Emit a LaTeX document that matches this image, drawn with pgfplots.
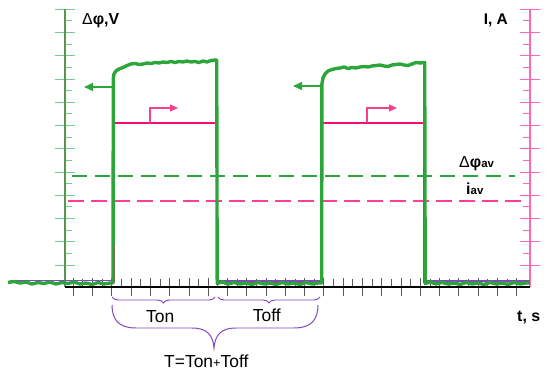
\documentclass[border=0pt]{standalone}
\usepackage{fontspec}
\setmainfont{Liberation Sans}
\usepackage{pgfplots}
\usepackage{pgfplotstable}
\pgfplotsset{compat=1.18}
\usetikzlibrary{arrows.meta,decorations.pathreplacing}

\definecolor{trace}{RGB}{44,165,58}
\definecolor{gaxis}{RGB}{90,150,80}
\definecolor{gtick}{RGB}{110,205,145}
\definecolor{ptrace}{RGB}{245,15,110}
\definecolor{paxis}{RGB}{255,105,180}
\definecolor{pdash}{RGB}{255,60,150}
\definecolor{purp}{RGB}{130,70,190}

% potential difference trace, x and y in picture pixels (y from top)
\pgfplotstableread{
x py
8 282.5
14 281.5
20 283
26 282
32 284
38 282.5
44 283.5
50 282
56 284
62 282.5
68 283.5
74 282
80 284
86 283
92 284.5
98 282.5
104 284
110 283
113 283
113.3 78
114 74
116 71
119 69
123 67.5
127 65.5
131 64
135 63.5
139 64.5
143 64
147 63
151 63.5
155 62.5
159 63
163 62
167 62.5
171 61.5
175 62.5
179 61.5
183 62
187 61
191 62
195 61.5
199 62.5
203 61
207 62
211 60.5
215 60
216.7 60
217.2 283.5
222 282
228 284
234 282.5
240 284
246 283
252 284.5
258 282.5
264 284
270 283
276 284.5
282 282.5
288 284
294 283
300 284.5
306 282.5
312 284
318 283
321.7 283
321.9 84
323 78
325 74
328 71
332 69.5
336 68.5
340 68
344 67
348 68.5
352 67.5
356 68
360 67
364 66.5
368 67
372 66
376 65.5
380 65
384 66
388 66.5
392 65
396 64.5
400 64
404 65
408 65.5
412 64
416 62.5
420 63
424.7 62.5
425.2 283.5
430 282
436 284
442 282.5
448 284
454 283
460 284.5
466 282.5
472 284
478 283
484 284.5
490 282.5
496 284
502 283
508 284.5
514 282.5
520 284
526 283
530 283
}\dphi

% current trace
\pgfplotstableread{
x py
114 283
114 123
217 123
217 283
322 283
322 123
424 123
424 283
}\cur

\pgfplotsset{frame/.style={
  scale only axis, width=465bp, height=278bp,
  xmin=65, xmax=530, ymin=88, ymax=366,
  clip=false, axis line style={-},
  xticklabels={}, yticklabels={},
}}

\begin{document}
\begin{tikzpicture}
% left axis
\begin{axis}[frame, axis x line=none, axis y line*=left, tick align=center,
  ytick={109.95,133.2,...,366}, minor y tick num=1,
  major tick length=20bp, minor tick length=7bp,
  y axis line style={gaxis, line width=1.2pt},
  major tick style={gtick, line width=1pt},
  minor tick style={gtick, line width=1pt, xshift=3.5bp}]
\end{axis}
% right axis
\begin{axis}[frame, axis x line=none, axis y line*=right, tick align=center,
  ytick={109.95,133.2,...,366}, minor y tick num=1,
  major tick length=20bp, minor tick length=7bp,
  y axis line style={paxis, line width=1.5pt},
  major tick style={paxis, line width=1pt},
  minor tick style={paxis, line width=1pt, xshift=-3.5bp}]
\end{axis}
% time axis and the traces
\begin{axis}[frame, axis y line=none, axis x line*=bottom, tick align=center,
  xtick={73.3,92.58,...,518}, minor x tick num=1,
  major tick length=18bp, minor tick length=8bp,
  x axis line style={black, line width=1.2pt},
  major tick style={black!65, line width=0.9pt},
  minor tick style={black!65, line width=0.9pt, yshift=4bp}]

\path (0,0) rectangle (550,375);

\addplot[pdash, line width=2pt, dash pattern=on 16bp off 7bp] coordinates {(68,174.3) (525,174.3)};
\addplot[trace, line width=2pt, dash pattern=on 15bp off 8bp] coordinates {(72,199) (515,199)};

\addplot[ptrace, line width=3pt] table[x=x, y expr=375-\thisrow{py}] {\cur};
\addplot[purp, line width=1.6pt] coordinates {(10,94.5) (113,94.5)};
\addplot[purp, line width=1.6pt] coordinates {(217,94) (321,94)};
\addplot[purp, line width=1.6pt] coordinates {(425,94) (530,94)};
\addplot[trace, line width=3.4pt, line join=round] table[x=x, y expr=375-\thisrow{py}] {\dphi};

% direction arrows
\draw[trace, line width=1.5pt, -{Triangle[length=9bp,width=8bp]}] (112,288) -- (84,288);
\draw[trace, line width=1.5pt, -{Triangle[length=9bp,width=8bp]}] (320,289) -- (293,289);
\draw[ptrace!80, line width=1.2pt, -{Triangle[length=8bp,width=7bp]}] (150,252) -- (150,267) -- (178,267);
\draw[ptrace!80, line width=1.2pt, -{Triangle[length=8bp,width=7bp]}] (367,252) -- (367,267) -- (397,267);

% braces
\draw[purp, line width=1pt, decorate, decoration={brace, amplitude=6bp, mirror}] (112,78) -- (215,78);
\draw[purp, line width=1pt, decorate, decoration={brace, amplitude=6bp, mirror}] (218,78) -- (320,78);
\draw[purp, line width=1pt] (112,70) .. controls (112,55) and (119,47) .. (136,47) -- (192,47)
  .. controls (207,47) and (213,40) .. (214,27)
  .. controls (215,40) and (221,47) .. (236,47) -- (294,47)
  .. controls (311,47) and (318,55) .. (318,70);

% labels
\node[anchor=base west, inner sep=0, font=\fontsize{16}{17}\selectfont] at (82,350) {Δ\textbf{φ,V}};
\node[anchor=base east, inner sep=0, font=\fontsize{15.5}{16}\selectfont\bfseries] at (508,350) {I, A};
\node[anchor=base west, inner sep=0, font=\fontsize{16}{17}\selectfont] at (459,207.7) {Δ\textbf{φ}{\fontsize{11.5}{12}\selectfont\bfseries av}};
\node[anchor=base west, inner sep=0, font=\fontsize{16}{17}\selectfont\bfseries] at (466,180) {i{\fontsize{11.5}{12}\selectfont av}};
\node[anchor=base west, inner sep=0, font=\fontsize{16}{17}\selectfont\bfseries] at (517,53.3) {t, s};
\node[anchor=base west, inner sep=0, font=\fontsize{17.5}{18}\selectfont] at (146,52.7) {Ton};
\node[anchor=base west, inner sep=0, font=\fontsize{17.5}{18}\selectfont] at (252.7,53.3) {Toff};
\node[anchor=base west, inner sep=0, font=\fontsize{17.5}{18}\selectfont] at (164,7.7) {T=Ton{\fontsize{13}{14}\selectfont +}Toff};
\end{axis}
\end{tikzpicture}
\end{document}
